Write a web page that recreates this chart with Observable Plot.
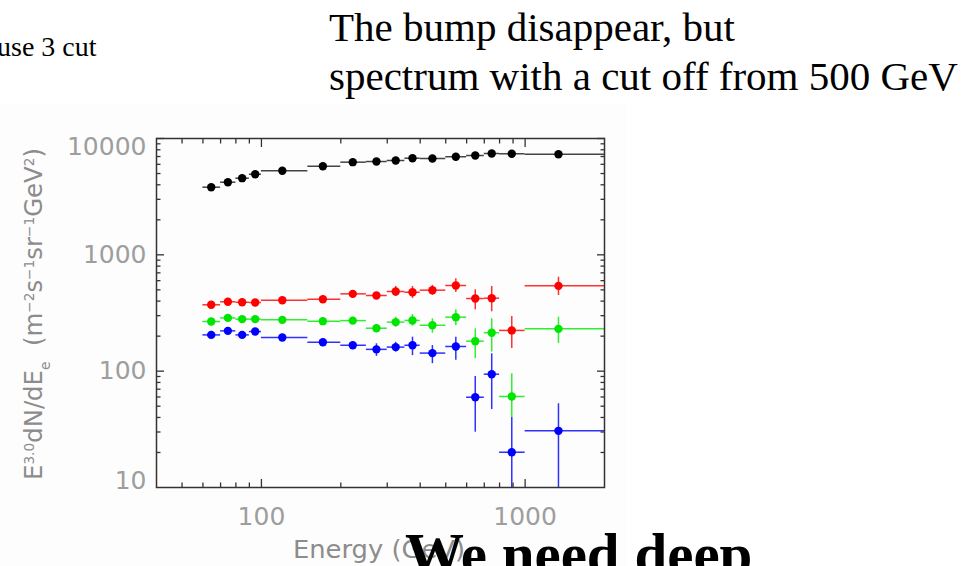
<!DOCTYPE html>
<html>
<head>
<meta charset="utf-8">
<script src="https://cdn.jsdelivr.net/npm/d3@7"></script>
<script src="https://cdn.jsdelivr.net/npm/@observablehq/plot@0.6"></script>
<style>
  html, body { margin: 0; padding: 0; background: #fff; }
  body { width: 970px; height: 566px; position: relative; overflow: hidden; }
  .serif { font-family: "Liberation Serif", "Times New Roman", serif; color: #000; position: absolute; white-space: nowrap; }
  #bg { position: absolute; left: 0; top: 104px; width: 627px; height: 462px; background: #fdfdfd; }
  #chart { position: absolute; left: 0; top: 96px; }
</style>
</head>
<body>
<div id="bg"></div>
<div class="serif" style="left:-3px; top:33px; font-size:28px; line-height:28px;">use 3 cut</div>
<div class="serif" style="left:329px; top:3px; font-size:41px; line-height:49px;">The bump disappear, but<br>spectrum with a cut off from 500 GeV</div>
<div id="chart"></div>
<div class="serif" style="left:405px; top:525px; font-size:59px; line-height:59px; font-weight:bold;">We need deep</div>
<script>
// ---- data ----
const energy = [64.5, 74.6, 84.5, 94.7, 120, 171, 222, 273, 323, 374, 445, 546, 647, 747, 890, 1338];
const binLo  = [60, 70, 80, 90, 100, 150, 200, 250, 300, 350, 400, 500, 600, 700, 800, 1000];
const binHi  = [70, 80, 90, 100, 150, 200, 250, 300, 350, 400, 500, 600, 700, 800, 1000, 2000];

const blackVal = [3815, 4210, 4560, 4930, 5280, 5780, 6260, 6340, 6470, 6770, 6730, 6970, 7140, 7430, 7390, 7330];
const blackLo  = [3740, 4130, 4470, 4830, 5180, 5670, 6130, 6210, 6340, 6630, 6590, 6830, 7000, 7280, 7240, 7180];
const blackHi  = [3890, 4290, 4650, 5030, 5380, 5890, 6390, 6470, 6600, 6910, 6870, 7110, 7280, 7580, 7540, 7480];

const redVal = [372, 395, 391, 389, 407, 415, 462, 447, 484, 477, 497, 545, 421, 424, 224, 541];
const redLo  = [360, 382, 378, 376, 395, 400, 440, 428, 438, 421, 447, 474, 337, 324, 157, 447];
const redHi  = [384, 408, 404, 402, 419, 430, 484, 466, 535, 535, 547, 622, 500, 535, 295, 642];

const greenVal = [267, 287, 280, 280, 276, 269, 272, 234, 264, 273, 248, 291, 181, 214, 60.6, 231];
const greenLo  = [260, 279, 272, 272, 268, 260, 262, 217, 239, 244, 212, 247, 128, 146, 40, 173];
const greenHi  = [274, 295, 288, 288, 284, 278, 282, 251, 291, 307, 282, 337, 231, 282, 95, 291];

const blueVal = [205, 222, 205, 219, 195, 177, 167, 154, 161, 167, 143, 163, 59.7, 94.2, 20.1, 30.7];
const blueLo  = [198, 214, 198, 211, 188, 170, 158, 134, 146, 136, 116, 124, 29.9, 46.8, 3, 3];
const blueHi  = [212, 230, 212, 227, 202, 184, 176, 172, 177, 196, 166, 196, 90, 141, 40, 52.4];

const seriesColors = ["#000000", "#ff0000", "#00e600", "#0000ff"];
const barColors    = ["#444444", "#ff3030", "#30ee30", "#3030ff"];

const yMajor = [100, 1000];
const yMinor = [20,30,40,50,60,70,80,90,200,300,400,500,600,700,800,900,2000,3000,4000,5000,6000,7000,8000,9000];
const xMajor = [100, 1000];
const xMinor = [50,60,70,80,90,200,300,400,500,600,700,800,900];

// ---- build table ----
const series = [
  [blackVal, blackLo, blackHi],
  [redVal, redLo, redHi],
  [greenVal, greenLo, greenHi],
  [blueVal, blueLo, blueHi]
];
const rows = [];
series.forEach(([v, lo, hi], s) => {
  v.forEach((val, j) => rows.push({
    s, color: seriesColors[s], bar: barColors[s],
    E: energy[j], eLo: binLo[j], eHi: binHi[j], val, lo: lo[j], hi: hi[j]
  }));
});

const axisGray = "#333";
const labelGray = "#9e9e9e";
const font = "DejaVu Sans";

const plot = Plot.plot({
  width: 620,
  height: 470,
  marginLeft: 156,
  marginRight: 16,
  marginTop: 42,
  marginBottom: 79,
  style: { background: "transparent", fontFamily: font, overflow: "visible" },
  x: { type: "log", domain: [40, 2000] },
  y: { type: "log", domain: [10, 10000] },
  color: { type: "identity" },
  marks: [
    Plot.ruleY(rows, { y: "val", x1: "eLo", x2: "eHi", stroke: "bar", strokeWidth: 1.5, clip: true }),
    Plot.ruleX(rows, { x: "E", y1: "lo", y2: "hi", stroke: "bar", strokeWidth: 1.5, clip: true }),
    Plot.dot(rows, { x: "E", y: "val", r: 4.2, fill: "color", stroke: null }),
    Plot.frame({ stroke: axisGray, strokeWidth: 1.5 }),
    // inward tick marks on all four sides
    Plot.axisY(yMajor.concat([10000]), { anchor: "left", tickSize: -8, fill: "none", stroke: axisGray, strokeWidth: 1.3, label: null }),
    Plot.axisY(yMinor, { anchor: "left", tickSize: -4.5, fill: "none", stroke: axisGray, strokeWidth: 1.3, label: null }),
    Plot.axisY(yMajor.concat([10000]), { anchor: "right", tickSize: -8, fill: "none", stroke: axisGray, strokeWidth: 1.3, label: null }),
    Plot.axisY(yMinor, { anchor: "right", tickSize: -4.5, fill: "none", stroke: axisGray, strokeWidth: 1.3, label: null }),
    Plot.axisX(xMajor, { anchor: "bottom", tickSize: -8, fill: "none", stroke: axisGray, strokeWidth: 1.3, label: null }),
    Plot.axisX(xMinor, { anchor: "bottom", tickSize: -4.5, fill: "none", stroke: axisGray, strokeWidth: 1.3, label: null }),
    Plot.axisX(xMajor, { anchor: "top", tickSize: -8, fill: "none", stroke: axisGray, strokeWidth: 1.3, label: null }),
    Plot.axisX(xMinor, { anchor: "top", tickSize: -4.5, fill: "none", stroke: axisGray, strokeWidth: 1.3, label: null }),
    // tick labels
    Plot.axisY(yMajor, { anchor: "left", tickSize: 0, tickPadding: 10, fill: labelGray, fontSize: 25, fontFamily: font, tickFormat: d => String(d), label: null }),
    Plot.axisY([10000], { anchor: "left", tickSize: 0, tickPadding: 10, dy: 8, fill: labelGray, fontSize: 25, fontFamily: font, tickFormat: d => String(d), label: null }),
    Plot.axisY([10], { anchor: "left", tickSize: 0, tickPadding: 10, dy: -7, fill: labelGray, fontSize: 25, fontFamily: font, tickFormat: d => String(d), label: null }),
    Plot.axisX(xMajor, { anchor: "bottom", tickSize: 0, tickPadding: 20, fill: labelGray, fontSize: 25, fontFamily: font, tickFormat: d => String(d), label: null })
  ]
});
document.getElementById("chart").appendChild(plot);

// axis titles (text with super/subscripts)
const svg = d3.select(plot);
svg.append("text")
  .attr("x", 379).attr("y", 462)
  .attr("text-anchor", "middle")
  .attr("fill", "#8c8c8c")
  .style("font-family", font)
  .style("font-size", "25px")
  .attr("textLength", 172)
  .attr("lengthAdjust", "spacingAndGlyphs")
  .text("Energy (GeV)");

const yt = svg.append("text")
  .attr("transform", "translate(42,218) rotate(-90)")
  .attr("text-anchor", "middle")
  .attr("fill", "#8c8c8c")
  .style("font-family", font)
  .style("font-size", "25px")
  .attr("textLength", 332)
  .attr("lengthAdjust", "spacingAndGlyphs");
const parts = [
  ["E", 0], ["3.0", 1], ["dN/dE", 0], ["e", -1], ["  (m", 0], ["\u22122", 1], ["s", 0], ["\u22121", 1],
  ["sr", 0], ["\u22121", 1], ["GeV", 0], ["2", 1], [")", 0]
];
parts.forEach(([t, k]) => {
  const ts = yt.append("tspan").text(t);
  if (k === 1) ts.attr("baseline-shift", "super").style("font-size", "14px");
  if (k === -1) ts.attr("baseline-shift", "sub").style("font-size", "14px");
});
</script>
</body>
</html>
